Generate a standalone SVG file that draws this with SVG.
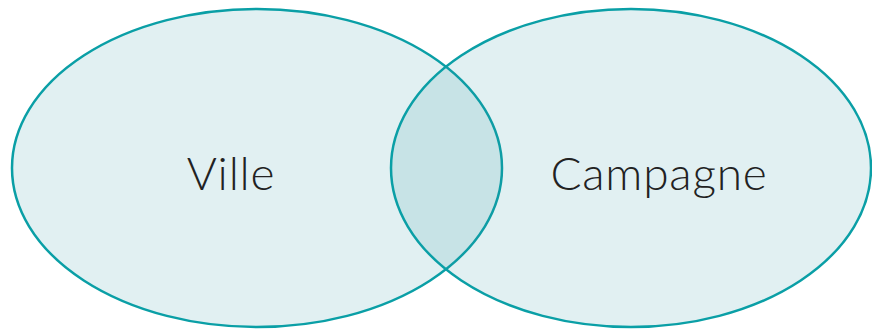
<svg xmlns="http://www.w3.org/2000/svg" width="872" height="329" viewBox="0 0 872 329">
<style>
.set{fill:rgb(45,146,161);fill-opacity:0.14;stroke:#0a9fa6;stroke-width:2.5}
.lbl{font-family:Lato,"Open Sans",sans-serif;font-weight:300;font-size:46px;letter-spacing:0.8px;fill:#222;text-anchor:middle}
</style>
<rect width="872" height="329" fill="#fff"/>
<g id="ville">
<ellipse class="set" cx="257" cy="168" rx="245" ry="159"/>
<text class="lbl" x="231" y="190">Ville</text>
</g>
<g id="campagne">
<ellipse class="set" cx="631" cy="168" rx="240" ry="159"/>
<text class="lbl" x="659" y="190">Campagne</text>
</g>
<g id="connectors"/>
</svg>
